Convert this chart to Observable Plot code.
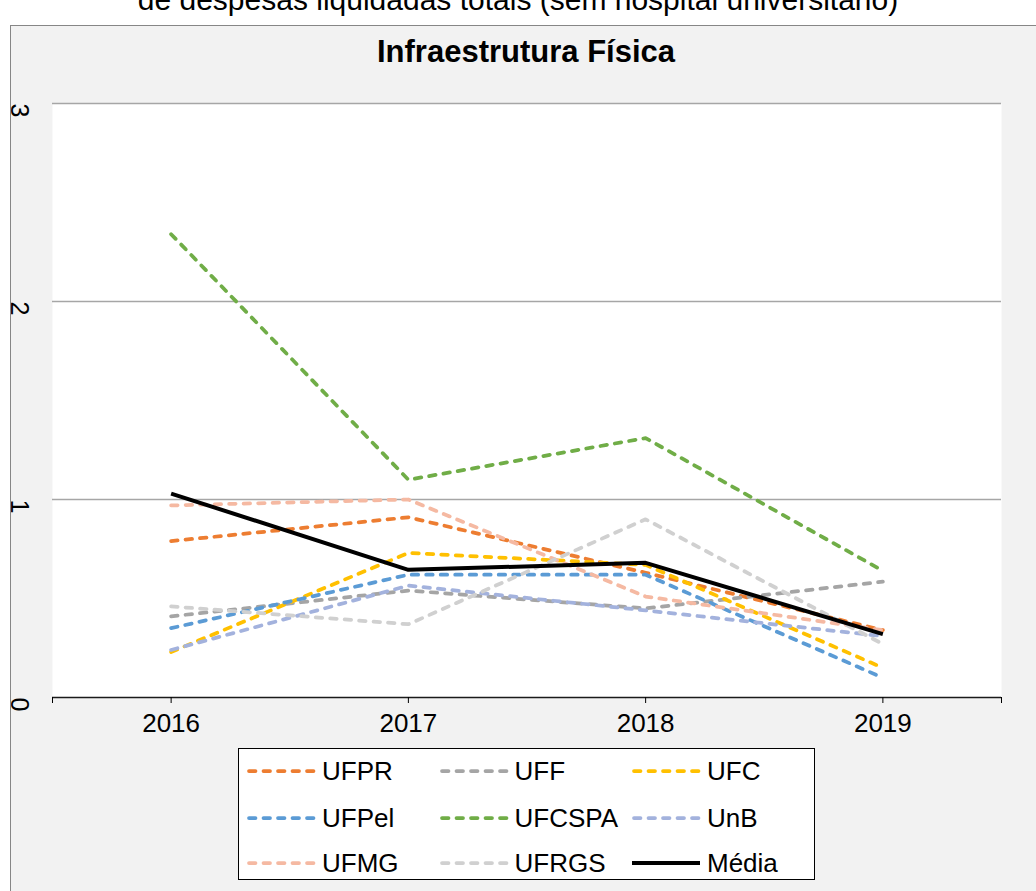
<!DOCTYPE html>
<html>
<head>
<meta charset="utf-8">
<script src="https://cdn.jsdelivr.net/npm/d3@7"></script>
<script src="https://cdn.jsdelivr.net/npm/@observablehq/plot@0.6"></script>
<style>
  html, body { margin: 0; padding: 0; background: white; }
  body { width: 1036px; height: 891px; overflow: hidden; position: relative; font-family: "Liberation Sans", Arial, sans-serif; }
  #subtitle { position: absolute; left: 0; width: 1036px; text-align: center; top: -15px; font-size: 30px; line-height: 30px; color: #000; white-space: nowrap; }
  #frame { position: absolute; left: 10px; top: 25px; width: 1026px; height: 866px; background: #f2f2f2; border-left: 1px solid #868686; border-top: 1px solid #868686; }
  #title { position: absolute; left: 0; width: 1052px; text-align: center; top: 36px; font-size: 31px; line-height: 31px; font-weight: bold; color: #000; white-space: nowrap; }
  #chart svg { position: absolute; left: 0; top: 0; clip-path: inset(26px 0 0 11px); }
  #legend { position: absolute; left: 238px; top: 748px; width: 575px; height: 130px; background: white; border: 1.5px solid #000; }
  .item { position: absolute; height: 30px; display: flex; align-items: center; }
  .item svg { display: block; }
  .item span { font-size: 26px; margin-left: 6px; color: #000; white-space: nowrap; }
</style>
</head>
<body>
<div id="subtitle">de despesas liquidadas totais (sem hospital universitário)</div>
<div id="frame"></div>
<div id="title">Infraestrutura Física</div>
<div id="chart"></div>
<div id="legend"></div>
<script>
const years = [2016, 2017, 2018, 2019];
const yTicks = [0, 1, 2, 3];
const seriesNames = ["UFPR", "UFF", "UFC", "UFPel", "UFCSPA", "UnB", "UFMG", "UFRGS", "Média"];
const UFPR   = [0.79, 0.91, 0.63, 0.34];
const UFF    = [0.41, 0.54, 0.45, 0.585];
const UFC    = [0.23, 0.73, 0.67, 0.15];
const UFPel  = [0.35, 0.62, 0.62, 0.10];
const UFCSPA = [2.34, 1.10, 1.31, 0.64];
const UnB    = [0.24, 0.565, 0.44, 0.31];
const UFMG   = [0.97, 1.00, 0.51, 0.34];
const UFRGS  = [0.46, 0.37, 0.90, 0.27];
const Media  = [1.03, 0.645, 0.68, 0.32];
const seriesValues = [UFPR, UFF, UFC, UFPel, UFCSPA, UnB, UFMG, UFRGS, Media];
const colors = ["#ED7D31", "#A5A5A5", "#FFC000", "#5B9BD5", "#70AD47", "#A3B2DD", "#F5B9A2", "#D0D0D0", "#000000"];

const dash = "6.5,8";
const table = seriesNames.flatMap((name, i) =>
  years.map((year, j) => ({ name, year, value: seriesValues[i][j] })));

const lineMarks = seriesNames.map((name, i) => {
  const isMean = name === "Média";
  return Plot.line(table.filter(d => d.name === name), {
    x: "year", y: "value",
    stroke: colors[i],
    strokeWidth: isMean ? 4 : 3.75,
    strokeDasharray: isMean ? null : dash,
    strokeLinecap: isMean ? "butt" : "round",
    strokeLinejoin: "round"
  });
});

const chart = Plot.plot({
  width: 1036,
  height: 745,
  marginTop: 103,
  marginBottom: 48,
  marginLeft: 52,
  marginRight: 35,
  x: { domain: [2015.5, 2019.5], axis: null },
  y: { domain: [0, 3], axis: null },
  style: { background: "transparent", fontFamily: "'Liberation Sans', Arial, sans-serif", overflow: "visible" },
  marks: [
    Plot.frame({ fill: "white", stroke: "none" }),
    Plot.ruleY(yTicks.filter(v => v > 0), { stroke: "#a6a6a6", strokeWidth: 1.3 }),
    Plot.ruleY([0], { stroke: "#1a1a1a", strokeWidth: 1.3 }),
    Plot.axisX({
      ticks: [2015.5, ...years, 2019.5],
      tickFormat: d => Number.isInteger(d) ? String(d) : "",
      tickSize: 6, tickPadding: 10, fontSize: 26, color: "#000", label: null
    }),
    Plot.text(yTicks, {
      y: d => d, text: d => String(d),
      frameAnchor: "left", dx: -34, rotate: 90, fontSize: 25, fill: "#000"
    }),
    ...lineMarks
  ]
});
document.getElementById("chart").appendChild(chart);

// Legend
const legend = document.getElementById("legend");
const colW = 192.5;
const rowY = [22, 69, 114];
seriesNames.forEach((name, i) => {
  const col = i % 3, row = Math.floor(i / 3);
  const item = document.createElement("div");
  item.className = "item";
  item.style.left = (7 + col * colW) + "px";
  item.style.top = (rowY[row] - 15) + "px";
  const isMean = name === "Média";
  const svgNS = "http://www.w3.org/2000/svg";
  const sw = document.createElementNS(svgNS, "svg");
  sw.setAttribute("width", 70); sw.setAttribute("height", 10);
  const ln = document.createElementNS(svgNS, "line");
  ln.setAttribute("x1", isMean ? 1 : 3); ln.setAttribute("x2", isMean ? 69 : 68);
  ln.setAttribute("y1", 5); ln.setAttribute("y2", 5);
  ln.setAttribute("stroke", colors[i]);
  ln.setAttribute("stroke-width", isMean ? 4 : 3.75);
  if (!isMean) { ln.setAttribute("stroke-dasharray", dash); ln.setAttribute("stroke-linecap", "round"); }
  sw.appendChild(ln);
  const label = document.createElement("span");
  label.textContent = name;
  item.appendChild(sw); item.appendChild(label);
  legend.appendChild(item);
});
</script>
</body>
</html>
